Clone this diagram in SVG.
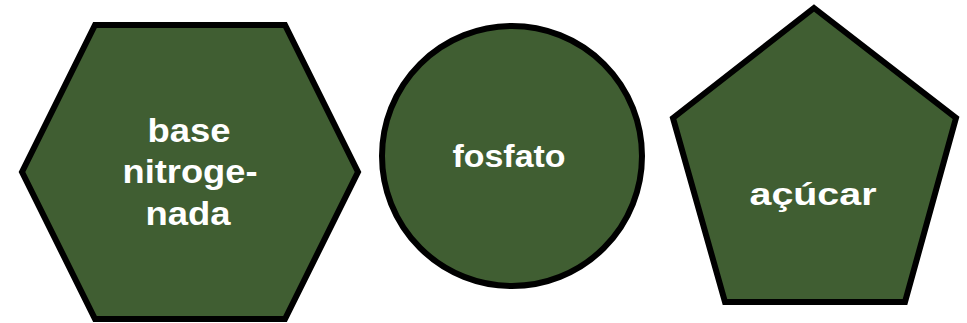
<svg xmlns="http://www.w3.org/2000/svg" width="967" height="323" viewBox="0 0 967 323">
<style>
.shape{fill:#405e32;stroke:#000;stroke-width:6;stroke-linejoin:miter}
.lbl{font-family:"Liberation Sans",Arial,sans-serif;font-weight:bold;font-size:32px;fill:#fff;text-anchor:middle}
.big{font-size:33px}
</style>
<rect width="967" height="323" fill="#fff"/>
<g id="base">
<polygon class="shape" points="95,25 285,25 358,172 285,319 95,319 22,172"/>
<text class="lbl big" x="189" y="142" textLength="83" lengthAdjust="spacingAndGlyphs">base</text>
<text class="lbl big" x="190" y="183" textLength="135" lengthAdjust="spacingAndGlyphs">nitroge-</text>
<text class="lbl big" x="188" y="225" textLength="85" lengthAdjust="spacingAndGlyphs">nada</text>
</g>
<g id="fosfato">
<circle class="shape" cx="512" cy="156" r="130"/>
<text class="lbl" x="509" y="167" textLength="113" lengthAdjust="spacingAndGlyphs">fosfato</text>
</g>
<g id="acucar">
<polygon class="shape" points="814,8 956,118 905,302 725,302 673,118"/>
<text class="lbl" x="813" y="205" textLength="127" lengthAdjust="spacingAndGlyphs">açúcar</text>
</g>
<g id="connectors"/>
</svg>
